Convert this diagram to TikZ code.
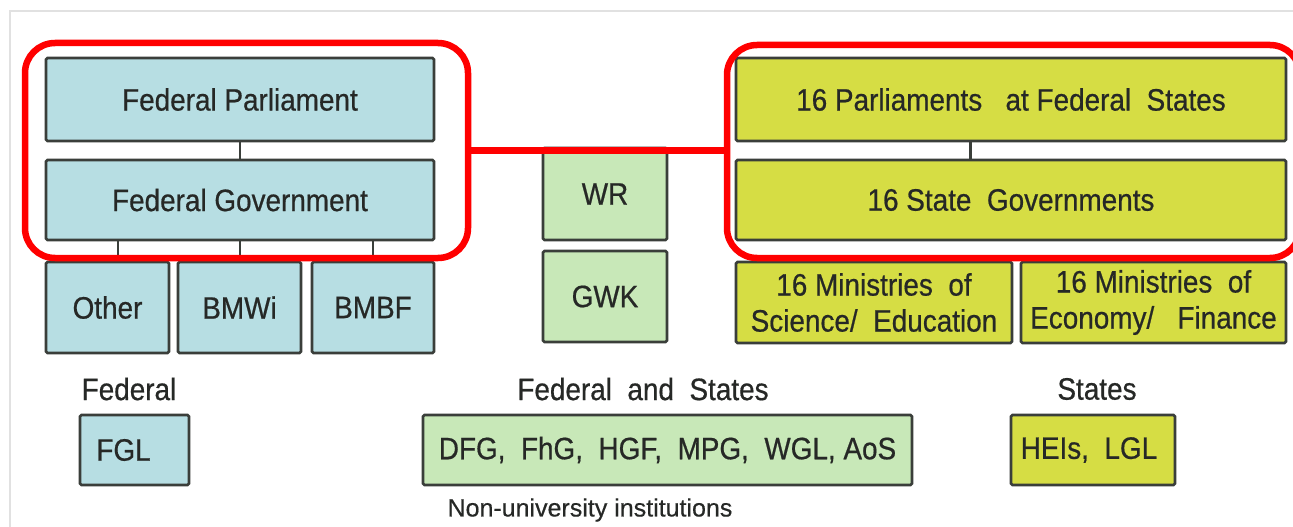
\documentclass[tikz,border=0pt]{standalone}
\usepackage{fontspec}
\setmainfont{Liberation Sans}[FakeStretch=0.9, FakeBold=0.6]
\newfontfamily\plainfont{Liberation Sans}[FakeBold=0.4]
\usetikzlibrary{calc}
\definecolor{fedblue}{RGB}{183,222,227}
\definecolor{mixgreen}{RGB}{200,232,184}
\definecolor{stateyel}{RGB}{214,221,68}
\definecolor{boxline}{RGB}{58,62,58}
\definecolor{txt}{RGB}{38,40,38}
\definecolor{frameline}{RGB}{225,225,225}
\tikzset{
  orgbox/.style={draw=boxline, line width=2.6pt, rounded corners=1.5pt, inner sep=0pt,
    text=txt, font=\fontsize{31}{37}\selectfont, align=center},
  fedbox/.style={orgbox, fill=fedblue},
  mixbox/.style={orgbox, fill=mixgreen},
  statebox/.style={orgbox, fill=stateyel},
  redframe/.style={draw=red, line width=6.5pt, rounded corners=30pt, inner sep=0pt},
  redlink/.style={draw=red, line width=6.5pt},
  link/.style={draw=boxline, line width=2.4pt},
  caption/.style={text=txt, font=\fontsize{31}{34}\selectfont, inner sep=0pt},
  smallcap/.style={text=txt, font=\plainfont\fontsize{25}{28}\selectfont, inner sep=0pt}
}
\begin{document}
\begin{tikzpicture}[x=1pt,y=-1pt]
\useasboundingbox (0,0) rectangle (1293,527);
\fill[white] (0,0) rectangle (1293,527);
\draw[frameline, line width=1.2pt] (10,527) -- (10,11) -- (1293,11);

% federal side
\node[fedbox, minimum width=388pt, minimum height=83pt] (fp) at (240,99.5) {Federal Parliament};
\node[fedbox, minimum width=388pt, minimum height=80pt] (fg) at (240,200) {Federal Government};
\node[fedbox, minimum width=123pt, minimum height=91pt] (oth) at (107.5,307.5) {Other};
\node[fedbox, minimum width=123pt, minimum height=91pt] (bmwi) at (239.5,307.5) {BMWi};
\node[fedbox, minimum width=122pt, minimum height=91pt] (bmbf) at (373,307.5) {BMBF};
\draw[link] (fp.south) -- (fg.north);
\coordinate (c1) at ($(fg.south west)!0.188!(fg.south east)$);
\coordinate (c3) at ($(fg.south west)!0.840!(fg.south east)$);
\draw[link] (c1) -- (c1 |- oth.north);
\draw[link] (fg.south) -- (bmwi.north -| fg.south);
\draw[link] (c3) -- (c3 |- bmbf.north);

% joint
\node[mixbox, minimum width=124pt, minimum height=92pt] (wr) at (605,194) {WR};
\node[mixbox, minimum width=124pt, minimum height=91pt] (gwk) at (605,296.5) {GWK};

% state side
\node[statebox, minimum width=550pt, minimum height=83pt] (sp) at (1011,99.5) {16 Parliaments \ \ at Federal \ States};
\node[statebox, minimum width=550pt, minimum height=80pt] (sg) at (1011,200) {16 State \ Governments};
\node[statebox, minimum width=276pt, minimum height=81pt] (ms) at (874,302.5) {16 Ministries \ of\\[-1pt]Science/ \ Education};
\node[statebox, minimum width=265pt, minimum height=81pt] (me) at (1153.5,302.5) {16 Ministries \ of\\[-1pt]Economy/ \ \ Finance};
\coordinate (c4) at ($(sp.south west)!0.427!(sp.south east)$);
\draw[link] (c4) -- (c4 |- sg.north);

% red frames
\node[redframe, minimum width=443pt, minimum height=215pt] (lf) at (246.5,150.5) {};
\node[redframe, minimum width=573pt, minimum height=213pt] (rf) at (1013.5,151.5) {};
\draw[redlink] (lf.east) -- (lf.east -| rf.west);

% bottom row
\node[caption] (lblf) at (129,389) {Federal};
\node[fedbox, minimum width=109pt, minimum height=70pt] (fgl) at (134.5,450) {FGL\hspace{22pt}};
\node[caption] (lblfs) at (643,389) {Federal \ and \ States};
\node[mixbox, minimum width=489pt, minimum height=70pt] (nui) at (667.5,450) {DFG, \ FhG, \ HGF, \ MPG, \ WGL, AoS};
\node[smallcap] (nuil) at (590,510) {Non-university institutions};
\node[caption] (lbls) at (1097,389) {States};
\node[statebox, minimum width=164pt, minimum height=70pt] (hei) at (1093,450) {HEIs, \ LGL\hspace{8pt}};
\end{tikzpicture}
\end{document}
